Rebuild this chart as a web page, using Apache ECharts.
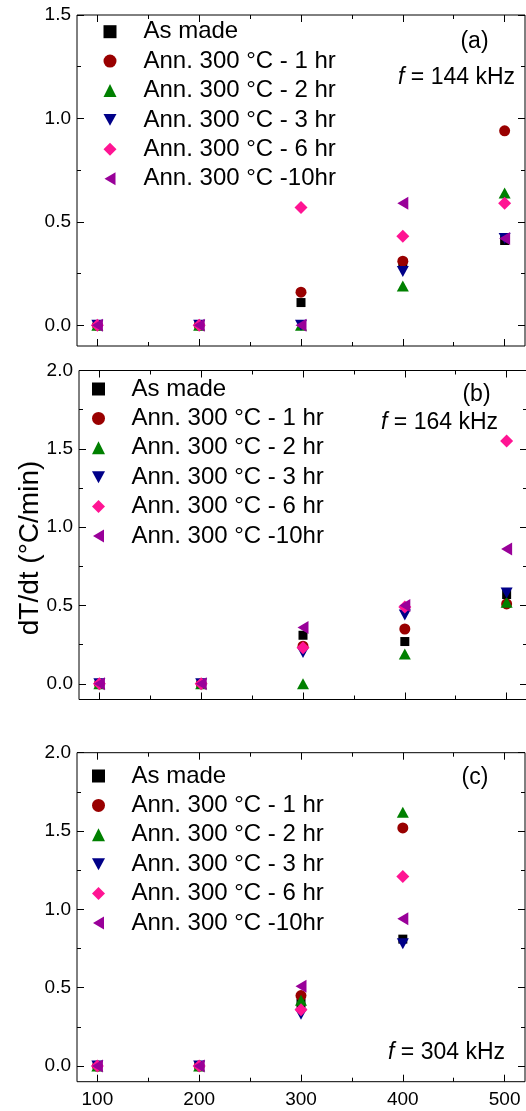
<!DOCTYPE html>
<html><head><meta charset="utf-8">
<script src="https://cdn.jsdelivr.net/npm/echarts@6/dist/echarts.min.js"></script>
<style>html,body{margin:0;padding:0;background:#fff}#c{width:526px;height:1111px}</style>
</head><body><div id="c"></div>
<script>
// ---------- data ----------
const seriesNames = ['As made', 'Ann. 300 °C - 1 hr', 'Ann. 300 °C - 2 hr', 'Ann. 300 °C - 3 hr', 'Ann. 300 °C - 6 hr', 'Ann. 300 °C -10hr'];
const xValsAB = [100, 200, 300, 400, 500];
const xValsC = [100, 200, 300, 400];

// panel (a) f = 144 kHz
const a_asMade = [0, 0, 0.11, 0.30, 0.41];
const a_1hr    = [0, 0, 0.16, 0.31, 0.94];
const a_2hr    = [0, 0, 0.00, 0.19, 0.64];
const a_3hr    = [0, 0, 0.00, 0.26, 0.42];
const a_6hr    = [0, 0, 0.57, 0.43, 0.59];
const a_10hr   = [0, 0, 0.00, 0.59, 0.42];

// panel (b) f = 164 kHz
const b_asMade = [0, 0, 0.31, 0.27, 0.57];
const b_1hr    = [0, 0, 0.24, 0.35, 0.51];
const b_2hr    = [0, 0, 0.00, 0.19, 0.52];
const b_3hr    = [0, 0, 0.20, 0.44, 0.58];
const b_6hr    = [0, 0, 0.23, 0.49, 1.55];
const b_10hr   = [0, 0, 0.36, 0.50, 0.86];

// panel (c) f = 304 kHz
const c_asMade = [0, 0, 0.40, 0.81];
const c_1hr    = [0, 0, 0.45, 1.52];
const c_2hr    = [0, 0, 0.42, 1.62];
const c_3hr    = [0, 0, 0.33, 0.78];
const c_6hr    = [0, 0, 0.36, 1.21];
const c_10hr   = [0, 0, 0.51, 0.94];

// tick values
const xMajorTicks = [100, 200, 300, 400, 500];
const xMinorTicks = [150, 250, 350, 450];
const yMajorA = [0, 0.5, 1.0, 1.5];
const yMinorA = [0.25, 0.75, 1.25];
const yMajorBC = [0, 0.5, 1.0, 1.5, 2.0];
const yMinorBC = [0.25, 0.75, 1.25, 1.75];

// ---------- styles ----------
const FONT = 'Liberation Sans, Arial, sans-serif';
const colors = ['#000000', '#990000', '#008000', '#000088', '#FF1493', '#990099'];
const symbols = ['rect', 'circle', 'triangle', 'path://M0,0 L12,0 L6,11 Z', 'diamond', 'path://M11,0 L11,13 L0,6.5 Z'];
const sizes = [9, 11, [12, 11], [12, 11], [13, 13], [11, 13]];

const panels = [
  {grid: {left: 77, top: 15, width: 448, height: 331}, ymax: 1.5, yMajor: yMajorA, yMinor: yMinorA, xs: xValsAB,
   ys: [a_asMade, a_1hr, a_2hr, a_3hr, a_6hr, a_10hr], xLabels: false,
   legend: {left: 103.5, top: 19.7, pad: 22}},
  {grid: {left: 79, top: 370.5, width: 448, height: 329}, ymax: 2.0, yMajor: yMajorBC, yMinor: yMinorBC, xs: xValsAB,
   ys: [b_asMade, b_1hr, b_2hr, b_3hr, b_6hr, b_10hr], xLabels: false,
   legend: {left: 92, top: 377, pad: 21.5}},
  {grid: {left: 77, top: 752.7, width: 448, height: 329}, ymax: 2.0, yMajor: yMajorBC, yMinor: yMinorBC, xs: xValsC,
   ys: [c_asMade, c_1hr, c_2hr, c_3hr, c_6hr, c_10hr], xLabels: true,
   legend: {left: 92, top: 764, pad: 21.5}}
];

const grids = [], xAxes = [], yAxes = [], series = [], legends = [];
const tickLine = {color: '#000', width: 1};

panels.forEach((p, gi) => {
  grids.push(Object.assign({show: true, borderColor: '#000', borderWidth: 1, containLabel: false, outerBoundsMode: 'none'}, p.grid));
  const xb = {type: 'value', gridIndex: gi, min: 80, max: 520, splitLine: {show: false}, axisLine: {show: false, onZero: false}};
  const mk = (pos, vals, len, label) => Object.assign({}, xb, {
    position: pos,
    axisTick: {show: true, inside: true, length: len, customValues: vals, lineStyle: tickLine},
    axisLabel: label ? {show: true, customValues: vals, margin: 9, fontSize: 19, fontFamily: FONT, color: '#000'} : {show: false}
  });
  xAxes.push(mk('bottom', xMajorTicks, 7, p.xLabels), mk('bottom', xMinorTicks, 4, false), mk('top', xMajorTicks, 7, false), mk('top', xMinorTicks, 4, false));

  const yb = {type: 'value', gridIndex: gi, min: -0.1, max: p.ymax, splitLine: {show: false}, axisLine: {show: false, onZero: false}};
  const mky = (pos, vals, len, label) => Object.assign({}, yb, {
    position: pos,
    axisTick: {show: true, inside: true, length: len, customValues: vals, lineStyle: tickLine},
    axisLabel: label ? {show: true, customValues: vals, margin: 6, fontSize: 19, fontFamily: FONT, color: '#000', formatter: v => Number(v).toFixed(1)} : {show: false}
  });
  yAxes.push(mky('left', p.yMajor, 7, true), mky('left', p.yMinor, 4, false), mky('right', p.yMajor, 7, false), mky('right', p.yMinor, 4, false));

  p.ys.forEach((vals, si) => {
    series.push({
      type: 'scatter', name: seriesNames[si], xAxisIndex: gi * 4, yAxisIndex: gi * 4,
      data: p.xs.map((x, k) => [x, vals[k]]),
      symbol: symbols[si], symbolSize: sizes[si],
      itemStyle: {color: colors[si], opacity: 1},
      z: 2 + si
    });
  });

  legends.push({
    orient: 'vertical', left: p.legend.left, top: p.legend.top, padding: 0,
    itemWidth: 13, itemHeight: 13, itemGap: 5.4, selectedMode: false,
    data: seriesNames,
    textStyle: {fontSize: 24, fontFamily: FONT, color: '#000', lineHeight: 24, padding: [0, 0, 0, p.legend.pad]}
  });
});

const txt = (x, y, text, align, size) => ({
  type: 'text', x: x, y: y, z: 100,
  style: {text: text, fontSize: size || 23, fontFamily: FONT, fill: '#000', align: align, verticalAlign: 'middle'}
});
const ftxt = (x, y, rest) => ({
  type: 'text', x: x, y: y, z: 100,
  style: {text: '{i|f}' + rest, fontSize: 23, fontFamily: FONT, fill: '#000', align: 'right', verticalAlign: 'middle',
    rich: {i: {fontStyle: 'italic', fontSize: 23, fontFamily: FONT, fill: '#000'}}}
});

const graphic = [
  txt(474.5, 42, '(a)', 'center'),
  ftxt(515, 78, ' = 144 kHz'),
  txt(476.5, 395, '(b)', 'center'),
  ftxt(498, 423, ' = 164 kHz'),
  txt(475, 778, '(c)', 'center'),
  ftxt(505, 1053, ' = 304 kHz'),
  {type: 'text', x: 30, y: 548, rotation: Math.PI / 2, z: 100,
   style: {text: 'dT/dt (°C/min)', fontSize: 28, fontFamily: FONT, fill: '#000', align: 'center', verticalAlign: 'middle'}}
];

const chart = echarts.init(document.getElementById('c'), null, {renderer: 'canvas'});
chart.setOption({
  animation: false,
  backgroundColor: '#fff',
  grid: grids, xAxis: xAxes, yAxis: yAxes, series: series, legend: legends, graphic: graphic
});
</script></body></html>
